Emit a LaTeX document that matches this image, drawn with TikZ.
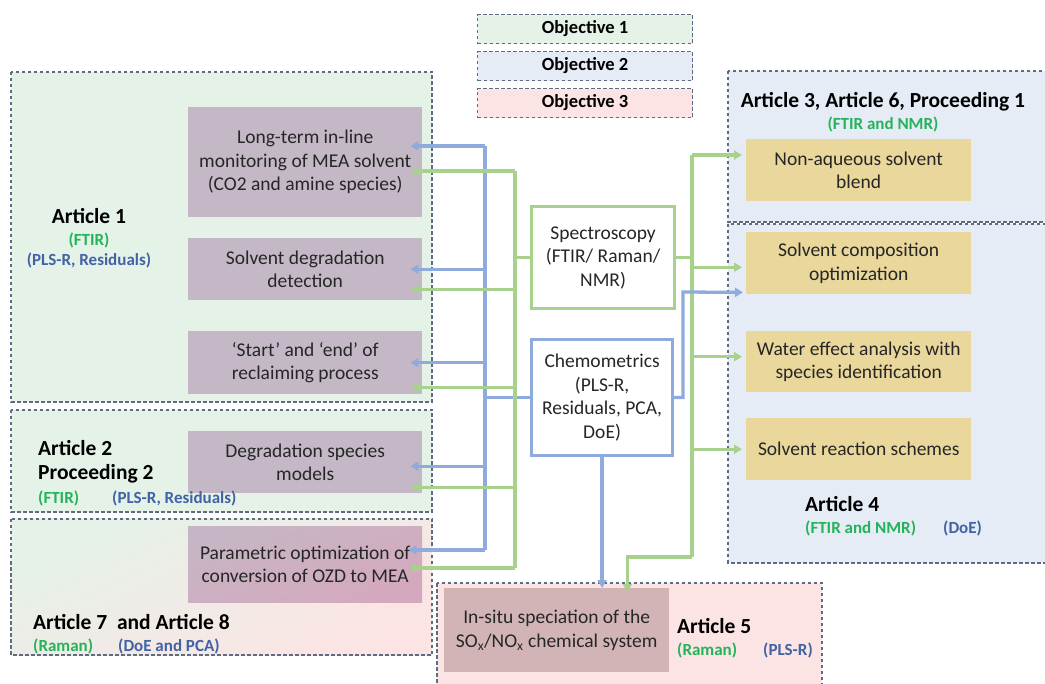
\documentclass[tikz,border=0pt]{standalone}
\usepackage{fontspec}
\setmainfont{Carlito}
\usetikzlibrary{arrows.meta,calc}

\definecolor{objgreen}{HTML}{E4F2E8}
\definecolor{objblue}{HTML}{E5ECF6}
\definecolor{objred}{HTML}{FCE4E4}
\definecolor{dashgray}{HTML}{5F6B80}
\definecolor{mauve}{HTML}{C4B8C6}
\definecolor{mauvepink}{HTML}{D5A8BD}
\definecolor{sand}{HTML}{E9D79B}
\definecolor{rose}{HTML}{D2B4B7}
\definecolor{linegreen}{HTML}{A9D18E}
\definecolor{lineblue}{HTML}{8FAADC}
\definecolor{txtgreen}{HTML}{25B35A}
\definecolor{txtblue}{HTML}{4163A6}
\definecolor{txtdark}{HTML}{262626}

\begin{document}
\begin{tikzpicture}[x=1pt,y=-1pt,
  panel/.style={draw=dashgray, line width=1.1pt, dash pattern=on 3.5pt off 2.5pt},
  topic/.style={rectangle, anchor=north west, inner sep=2pt, align=center,
    text=txtdark, font=\fontsize{19.5}{23.5}\selectfont},
  legend/.style={rectangle, anchor=north west, panel, minimum width=215pt,
    minimum height=29pt, font=\bfseries\fontsize{18.5}{20}\selectfont},
  method/.style={rectangle, anchor=north west, line width=3.2pt, fill=white,
    align=center, text=txtdark, font=\fontsize{19.5}{23.5}\selectfont},
  title/.style={inner sep=0pt, font=\bfseries\fontsize{21.5}{24}\selectfont},
  gtag/.style={inner sep=0pt, text=txtgreen, font=\bfseries\fontsize{17}{20}\selectfont},
  btag/.style={inner sep=0pt, text=txtblue, font=\bfseries\fontsize{17}{20}\selectfont},
  gline/.style={draw=linegreen, line width=3.3pt},
  bline/.style={draw=lineblue, line width=3.3pt},
  tip/.style={-{Triangle[length=8pt,width=9pt]}}
]
\useasboundingbox (0,0) rectangle (1045,684);

% objective legend
\node[legend, fill=objgreen] (obj1) at (477,14) {Objective 1};
\node[legend, fill=objblue]  (obj2) at (477,51) {Objective 2};
\node[legend, fill=objred]   (obj3) at (477,88) {Objective 3};

% article panels
\path[panel, fill=objgreen] (11,72) rectangle (432,402);
\path[panel, fill=objgreen] (11,410) rectangle (432,512);
\path[panel, top color=objgreen, bottom color=objred, shading angle=25] (11,519) rectangle (432,655);
\path[panel, fill=objblue] (728,71) rectangle (1070,222);
\path[panel, fill=objblue] (728,224) rectangle (1070,563);
\path[panel, fill=objred] (437,583) rectangle (822,700);

% left topics
\node[topic, fill=mauve, minimum width=234pt, minimum height=110pt] (lt) at (188,107)
  {Long-term in-line\\monitoring of MEA solvent\\(CO2 and amine species)};
\node[topic, fill=mauve, minimum width=234pt, minimum height=62pt] (sd) at (188,238)
  {Solvent degradation\\detection};
\node[topic, fill=mauve, minimum width=234pt, minimum height=63pt] (se) at (188,331)
  {‘Start’ and ‘end’ of\\reclaiming process};
\node[topic, fill=mauve, minimum width=234pt, minimum height=62pt] (ds) at (188,431)
  {Degradation species\\models};
\node[topic, top color=mauve!90!mauvepink, bottom color=mauvepink, shading angle=20,
  minimum width=234pt, minimum height=76pt] (po) at (188,526)
  {Parametric optimization of\\conversion of OZD to MEA};

% right topics
\node[topic, fill=sand, minimum width=225pt, minimum height=62pt] (na) at (746,139)
  {Non-aqueous solvent\\blend};
\node[topic, fill=sand, minimum width=225pt, minimum height=62pt] (sc) at (746,232)
  {Solvent composition\\optimization};
\node[topic, fill=sand, minimum width=225pt, minimum height=61pt] (we) at (746,331)
  {Water effect analysis with\\species identification};
\node[topic, fill=sand, minimum width=225pt, minimum height=62pt] (sr) at (746,418)
  {Solvent reaction schemes};

% bottom topic
\node[topic, fill=rose, minimum width=225pt, minimum height=84pt] (is) at (444,588)
  {In-situ speciation of the\\SO\textsubscript{x}/NO\textsubscript{x} chemical system};

% methods
\node[method, draw=linegreen, minimum width=143pt, minimum height=102pt] (spec) at (530,205)
  {Spectroscopy\\(FTIR/ Raman/\\NMR)};
\node[method, draw=lineblue, minimum width=141pt, minimum height=116pt] (chem) at (530,338)
  {Chemometrics\\(PLS-R,\\Residuals, PCA,\\DoE)};

% panel labels
\node[title] (a1) at (89,216) {Article 1};
\node[gtag] (a1g) at (89,240) {(FTIR)};
\node[btag] (a1b) at (89,260) {(PLS-R, Residuals)};

\node[title, anchor=west] (a2) at (38,448) {Article 2};
\node[title, anchor=west] (p2) at (38,474) {Proceeding 2};
\node[gtag, anchor=west] (a2g) at (38,498) {(FTIR)};
\node[btag, anchor=west] (a2b) at (112,498) {(PLS-R, Residuals)};

\node[title, anchor=west] (a78) at (33,622) {Article 7\ \ and Article 8};
\node[gtag, anchor=west] (a78g) at (33,646) {(Raman)};
\node[btag, anchor=west] (a78b) at (118,646) {(DoE and PCA)};

\node[title] (a3) at (883,102) {Article 3, Article 6, Proceeding 1};
\node[gtag] (a3g) at (883,124) {(FTIR and NMR)};

\node[title, anchor=west] (a4) at (805,504) {Article 4};
\node[gtag, anchor=west] (a4g) at (805,528) {(FTIR and NMR)};
\node[btag, anchor=west] (a4b) at (943,528) {(DoE)};

\node[title, anchor=west] (a5) at (677,626) {Article 5};
\node[gtag, anchor=west] (a5g) at (677,650) {(Raman)};
\node[btag, anchor=west] (a5b) at (763,650) {(PLS-R)};

% left buses
\coordinate (bT) at (485,146);
\coordinate (bB) at (485,550);
\coordinate (gT) at (515,171);
\coordinate (gB) at (515,568);
\draw[bline] (bT) -- (bB);
\draw[bline] (chem.west) -- (chem.west -| bT);
\draw[gline] (gT) -- (gB);
\draw[gline] (spec.west) -- (spec.west -| gT);

\draw[bline, tip] (bT) -- ($(lt.north east)+(-12,39)$);
\draw[gline, tip] (gT) -- ($(lt.north east)+(-12,64)$);
\draw[bline, tip] (bT |- sd.east) -- ($(sd.east)+(-12,0)$);
\draw[gline, tip] ($(gT |- sd.east)+(0,20)$) -- ($(sd.east)+(-12,20)$);
\draw[bline, tip] (bT |- se.east) -- ($(se.east)+(-12,0)$);
\draw[gline, tip] ($(gT |- se.east)+(0,25)$) -- ($(se.east)+(-12,25)$);
\draw[bline, tip] ($(bT |- ds.east)+(0,4)$) -- ($(ds.east)+(-12,4)$);
\draw[gline, tip] ($(gT |- ds.east)+(0,25)$) -- ($(ds.east)+(-12,25)$);
\draw[bline, tip] (bB) -- ($(po.north east)+(-14,24)$);
\draw[gline, tip] (gB) -- ($(po.north east)+(-14,42)$);

% right bus
\coordinate (rT) at (692,155);
\coordinate (rB) at (692,557);
\draw[gline] (rT) -- (rB);
\draw[gline] (spec.east) -- (spec.east -| rT);
\draw[gline, tip] (rT) -- ($(na.north west)+(-4,16)$);
\draw[gline, tip] ($(rT |- sc.west)+(0,4)$) -- ($(sc.west)+(-4,4)$);
\draw[gline, tip] ($(rT |- we.west)+(0,-5)$) -- ($(we.west)+(-4,-5)$);
\draw[gline, tip] (rT |- sr.west) -- ($(sr.west)+(-4,0)$);
\draw[gline, tip] (rB) -| ($(is.north east)+(-42,4)$);

% chemometrics to the right and down
\coordinate (cR) at (683,292);
\draw[bline, tip] (chem.east) -| (cR) -- ($(sc.south west)+(-3,-2)$);
\draw[bline, tip] (chem.south) -- (chem.south |- is.north);
\end{tikzpicture}
\end{document}
